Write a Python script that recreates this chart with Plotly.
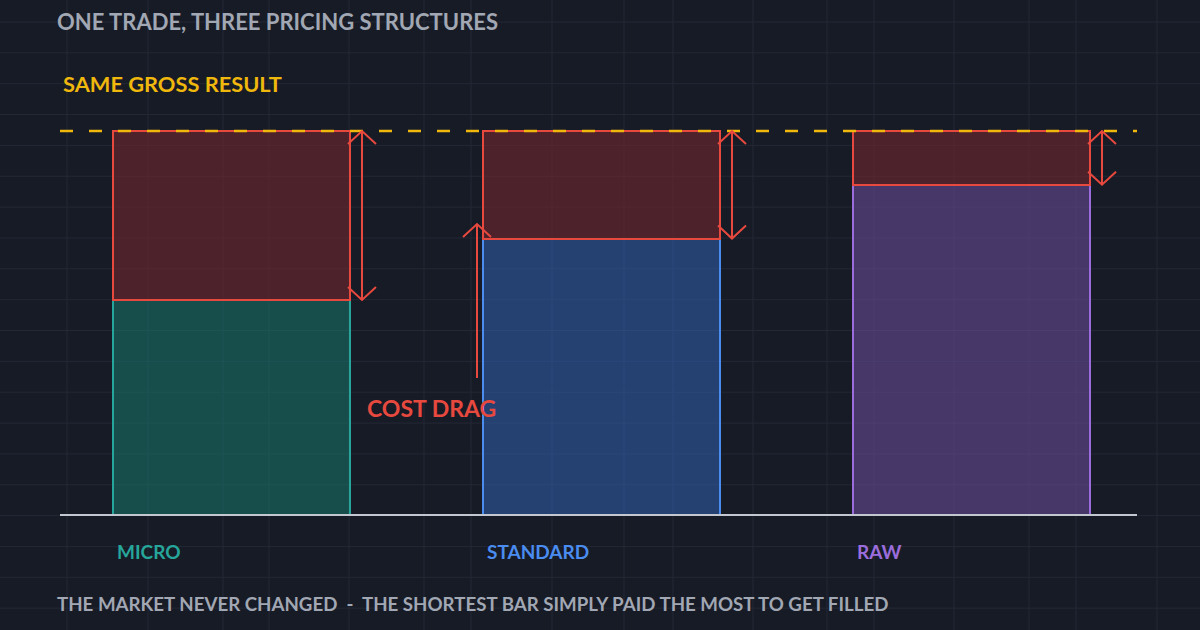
import plotly.graph_objects as go

# ---------------- data ----------------
categories = ["MICRO", "STANDARD", "RAW"]
gross_result = 100
net_result = [56, 72, 86]
cost_drag = [44, 28, 14]
title_text = "ONE TRADE, THREE PRICING STRUCTURES"
gross_label = "SAME GROSS RESULT"
drag_label = "COST DRAG"
footer_text = "THE MARKET NEVER CHANGED  -  THE SHORTEST BAR SIMPLY PAID THE MOST TO GET FILLED"

# ---------------- style ----------------
W, H = 1200, 630
BG = "#171b26"
GRID = "#242835"
RED = "#e8493e"
YELLOW = "#f0b70d"
GREY_TXT = "#a1a7b3"
FONT = "Lato"
edge_cols = ["#26a69a", "#4a8cf0", "#9b6ddc"]
fill_cols = ["rgba(24,120,108,0.55)", "rgba(50,96,176,0.55)", "rgba(110,78,158,0.55)"]
cost_fill = "rgba(122,40,46,0.55)"

# pixel geometry -> axis ranges (axes span the whole figure)
cx0, dx = 231.0, 370.0          # pixel centre of first bar, pixels per category
base_px, top_px = 515.0, 131.0  # pixel of 0 and of gross result
ppu = (base_px - top_px) / gross_result
xr = [(0 - cx0) / dx, (W - cx0) / dx]
yr = [-(H - base_px) / ppu, base_px / ppu]

def px_x(p):
    return (p - cx0) / dx

def px_y(p):
    return (base_px - p) / ppu

fig = go.Figure()

# background grid (decorative)
shapes = []
vgrid = [67, 148, 223, 269, 349, 424, 471, 552, 624, 673, 753, 827, 874, 954, 1029, 1076, 1157]
for v in vgrid:
    shapes.append(dict(type="line", xref="paper", yref="paper", x0=v / W, x1=v / W, y0=0, y1=1,
                       line=dict(color=GRID, width=1), layer="below"))
k = 0
while 22 + 30.85 * k < H:
    yp = 22 + 30.85 * k
    shapes.append(dict(type="line", xref="paper", yref="paper", x0=0, x1=1, y0=1 - yp / H, y1=1 - yp / H,
                       line=dict(color=GRID, width=1), layer="below"))
    k += 1

# gross dashed line
fig.add_trace(go.Scatter(x=[px_x(60), px_x(1137)], y=[gross_result, gross_result], mode="lines",
                         line=dict(color=YELLOW, width=2.5, dash="13px,16px"), hoverinfo="skip",
                         showlegend=False))

xs = list(range(len(categories)))
bw = 237 / dx
fig.add_trace(go.Bar(x=xs, y=net_result, width=bw, marker=dict(color=fill_cols,
                     line=dict(color=edge_cols, width=2)), showlegend=False, hoverinfo="skip"))
fig.add_trace(go.Bar(x=xs, y=cost_drag, width=bw, marker=dict(color=cost_fill,
                     line=dict(color=RED, width=2)), showlegend=False, hoverinfo="skip"))

# baseline
fig.add_trace(go.Scatter(x=[px_x(60), px_x(1137)], y=[0, 0], mode="lines",
                         line=dict(color="#c3c7cf", width=2), hoverinfo="skip", showlegend=False))

# double arrows showing the cost drag
ax_off = 131 / dx
hw = 14 / dx
hh = 13 / ppu
axs, ays = [], []
for i, (n, c) in enumerate(zip(net_result, cost_drag)):
    xa = i + ax_off
    top = n + c
    axs += [xa, xa, None, xa - hw, xa, xa + hw, None, xa - hw, xa, xa + hw, None]
    ays += [n, top, None, top - hh, top, top - hh, None, n + hh, n, n + hh, None]
# single up arrow next to COST DRAG
ux = px_x(477)
uy0, uy1 = px_y(378), px_y(224)
axs += [ux, ux, None, ux - hw, ux, ux + hw, None]
ays += [uy0, uy1, None, uy1 - hh, uy1, uy1 - hh, None]
fig.add_trace(go.Scatter(x=axs, y=ays, mode="lines", line=dict(color=RED, width=2),
                         hoverinfo="skip", showlegend=False))

ann = []
def text(x_px, y_px, s, color, size):
    ann.append(dict(xref="paper", yref="paper", x=x_px / W, y=1 - y_px / H, text="<b>%s</b>" % s,
                    showarrow=False, xanchor="left", yanchor="middle",
                    font=dict(family=FONT, size=size, color=color)))

text(55, 22, title_text, GREY_TXT, 22)
text(61, 84, gross_label, YELLOW, 21.8)
text(365, 408, drag_label, RED, 23)
for i, cat in enumerate(categories):
    text(115 + 370 * i, 551, cat, edge_cols[i], 19)
text(55, 604, footer_text, GREY_TXT, 18.7)

fig.update_layout(
    width=W, height=H, paper_bgcolor=BG, plot_bgcolor=BG,
    margin=dict(l=0, r=0, t=0, b=0), barmode="stack", bargap=0,
    xaxis=dict(range=xr, visible=False, fixedrange=True),
    yaxis=dict(range=yr, visible=False, fixedrange=True),
    shapes=shapes, annotations=ann, showlegend=False,
)
fig.write_html("out.html", config={"displayModeBar": False},
               post_script="document.body.style.margin='0';document.body.style.background='%s';" % BG)
